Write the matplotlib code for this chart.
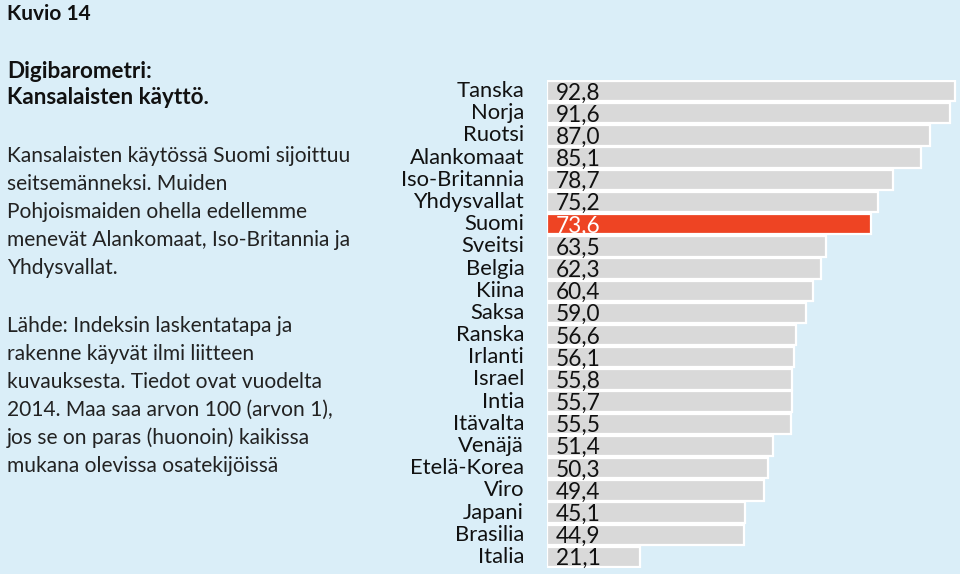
import matplotlib
matplotlib.use("Agg")
import matplotlib.pyplot as plt

countries = ["Tanska", "Norja", "Ruotsi", "Alankomaat", "Iso-Britannia", "Yhdysvallat",
             "Suomi", "Sveitsi", "Belgia", "Kiina", "Saksa", "Ranska", "Irlanti", "Israel",
             "Intia", "Itävalta", "Venäjä", "Etelä-Korea", "Viro", "Japani", "Brasilia", "Italia"]
values = [92.8, 91.6, 87.0, 85.1, 78.7, 75.2, 73.6, 63.5, 62.3, 60.4, 59.0, 56.6, 56.1, 55.8,
          55.7, 55.5, 51.4, 50.3, 49.4, 45.1, 44.9, 21.1]
highlight = "Suomi"

title = "Kuvio 14"
subtitle = ["Digibarometri:", "Kansalaisten käyttö."]
body1 = ["Kansalaisten käytössä Suomi sijoittuu", "seitsemänneksi. Muiden",
         "Pohjoismaiden ohella edellemme", "menevät Alankomaat, Iso-Britannia ja",
         "Yhdysvallat."]
body2 = ["Lähde: Indeksin laskentatapa ja", "rakenne käyvät ilmi liitteen",
         "kuvauksesta. Tiedot ovat vuodelta", "2014. Maa saa arvon 100 (arvon 1),",
         "jos se on paras (huonoin) kaikissa", "mukana olevissa osatekijöissä"]

BG = "#DAEEF8"
W, H = 960, 574
fig = plt.figure(figsize=(W / 100, H / 100), dpi=100, facecolor=BG)

def fx(px):
    return px / W

def fy(py):
    return 1 - py / H

# bar axes
x0, x1 = 547, 958
ytop, ybot = 80, 568
ax = fig.add_axes([fx(x0), fy(ybot), fx(x1 - x0), (ybot - ytop) / H])
ax.set_facecolor("none")
n = len(countries)
scale = 4.397
ax.set_xlim(0, (x1 - x0) / scale)
ax.set_ylim(n - 0.5, -0.5)
ypos = list(range(n))
colors = ["#EE4423" if c == highlight else "#D9D9D9" for c in countries]
ax.barh(ypos, values, height=0.92, color=colors, edgecolor="white", linewidth=1.6)
for y, v, c in zip(ypos, values, countries):
    ax.text(2.0, y + 0.08, f"{v:.1f}".replace(".", ","), va="center", ha="left",
            fontsize=16.3, family="Lato",
            color="white" if c == highlight else "#111111")
    ax.text(-5.2, y + 0.0, c, va="center", ha="right", fontsize=15.8, family="Lato",
            color="#111111", clip_on=False)
ax.axis("off")

# left texts
fig.text(fx(7), fy(14), title, fontsize=15, fontweight="bold", family="Lato",
         va="center", ha="left", color="#111111")
for i, s in enumerate(subtitle):
    fig.text(fx(7), fy(72 + 26 * i), s, fontsize=16.2, fontweight="bold", family="Lato",
             va="center", ha="left", color="#111111")
for i, s in enumerate(body1):
    fig.text(fx(7), fy(156 + 28 * i), s, fontsize=15.1, family="Lato",
             va="center", ha="left", color="#222222")
for i, s in enumerate(body2):
    fig.text(fx(7), fy(326 + 28 * i), s, fontsize=15.1, family="Lato",
             va="center", ha="left", color="#222222")

fig.savefig("out.png", dpi=100, facecolor=BG)
